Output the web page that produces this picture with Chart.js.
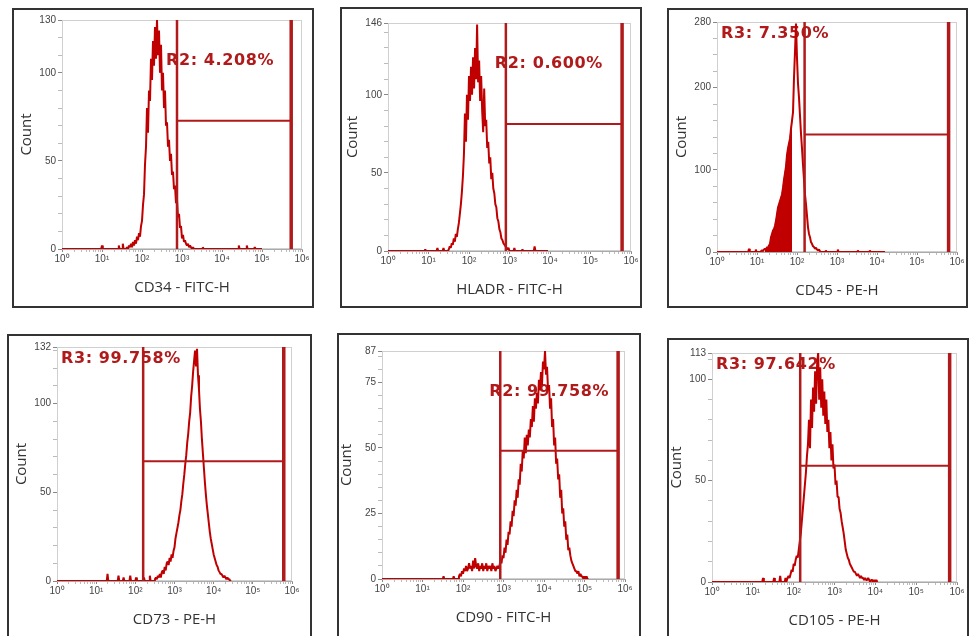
<!DOCTYPE html>
<html>
<head>
<meta charset="utf-8">
<title>Flow cytometry histograms</title>
<script src="https://cdn.jsdelivr.net/npm/chart.js@4.4.1/dist/chart.umd.min.js"></script>
<style>
  html, body { margin: 0; padding: 0; background: #fff; }
  body { width: 971px; height: 636px; position: relative; overflow: hidden; }
  .panel { position: absolute; box-sizing: border-box; border: 2px solid #333; }
  canvas { position: absolute; }
</style>
</head>
<body>
<div class="panel" style="left:12px;top:8px;width:302px;height:300px"></div>
<div class="panel" style="left:340px;top:7px;width:302px;height:301px"></div>
<div class="panel" style="left:667px;top:8px;width:301px;height:300px"></div>
<div class="panel" style="left:7px;top:334px;width:305px;height:310px"></div>
<div class="panel" style="left:337px;top:333px;width:304px;height:310px"></div>
<div class="panel" style="left:667px;top:338px;width:302px;height:310px"></div>
<canvas id="c0"></canvas>
<canvas id="c1"></canvas>
<canvas id="c2"></canvas>
<canvas id="c3"></canvas>
<canvas id="c4"></canvas>
<canvas id="c5"></canvas>
<script>
// ---- Data ----
const binStep = 0.025; // channel width, in decades

const markers = ['CD34 - FITC-H', 'HLADR - FITC-H', 'CD45 - PE-H', 'CD73 - PE-H', 'CD90 - FITC-H', 'CD105 - PE-H'];
const regionLabels = ['R2: 4.208%', 'R2: 0.600%', 'R3: 7.350%', 'R3: 99.758%', 'R2: 99.758%', 'R3: 97.642%'];
const yMax = [130, 146, 280, 132, 87, 113];
const yTickLabels = [[0, 50, 100, 130], [0, 50, 100, 146], [0, 100, 200, 280], [0, 50, 100, 132], [0, 25, 50, 75, 87], [0, 50, 100, 113]];
const yMinorStep = [10, 10, 20, 10, 5, 10];
const xDecades = [0, 1, 2, 3, 4, 5, 6];

// gates (log10 of fluorescence) and the level of the horizontal bar
const gateLow = [2.875, 2.91, 2.19, 2.2, 2.92, 2.16];
const gateHigh = [5.73, 5.78, 5.79, 5.79, 5.83, 5.82];
const gateLevel = [72.8, 81.4, 143, 67.6, 48.9, 57.4];

// histogram channels: first channel position and counts per channel
const histStart = [1.6, 1.5, 1.1, 2.5, 1.9, 1.85];

const cd34Counts = [0, 1, 0, 2, 1, 3, 1, 4, 2, 5, 3, 7, 5, 9, 7, 13,
  16, 25, 31, 48, 58, 80, 66, 90, 84, 108, 96, 118, 104, 126, 108, 130, 110, 124, 100, 116,
  90, 100, 80, 90, 70, 72, 58, 62, 50, 54, 42, 44, 34, 36, 26, 28, 18, 20, 12, 13,
  6, 8, 4, 5, 3, 2, 3, 1, 2, 1, 0, 1, 0];
const cd34Left = [[0, 0], [0.98, 0], [1.0, 2], [1.02, 0], [1.4, 0], [1.42, 2], [1.44, 0], [1.5, 0], [1.52, 3], [1.54, 0], [1.58, 0]];
const cd34Right = [[3.5, 0], [3.52, 1], [3.54, 0], [4.4, 0], [4.42, 2], [4.44, 0], [4.6, 0], [4.62, 2], [4.64, 0], [4.8, 0], [4.82, 1], [4.84, 0], [5.0, 0]];

const hladrCounts = [1, 3, 2, 5, 4, 8, 6, 11, 9, 14, 18, 24, 30, 38, 48, 62, 88, 70, 100, 84,
  112, 96, 118, 100, 124, 104, 130, 110, 145, 108, 122, 96, 112, 90, 76, 104, 80, 84, 66, 70,
  56, 60, 46, 50, 40, 37, 30, 28, 21, 19, 14, 12, 8, 7, 5, 4, 3, 2, 1, 2, 0];
const hladrLeft = [[0, 0], [0.9, 0], [0.92, 1], [0.94, 0], [1.2, 0], [1.22, 2], [1.24, 0], [1.35, 0], [1.37, 2], [1.39, 0], [1.48, 0]];
const hladrRight = [[3.1, 0], [3.12, 2], [3.14, 0], [3.3, 0], [3.32, 1], [3.34, 0], [3.6, 0], [3.62, 3], [3.64, 0], [3.95, 0]];

const cd45Counts = [1, 2, 1, 3, 4, 3, 6, 5, 8, 10, 18, 22, 26, 28, 32, 38, 46, 54, 58, 62,
  66, 70, 78, 88, 96, 104, 118, 126, 132, 138, 150, 160, 170, 212, 244, 278, 236, 205, 188, 166,
  144, 126, 106, 88, 70, 58, 44, 30, 22, 18, 12, 10, 7, 6, 4, 5, 3, 2, 3, 1, 0];
const cd45Left = [[0, 0], [0.78, 0], [0.8, 4], [0.82, 0], [0.95, 0], [0.97, 3], [0.99, 0], [1.08, 0]];
const cd45Right = [[2.7, 0], [2.72, 2], [2.74, 0], [3.0, 0], [3.02, 3], [3.04, 0], [3.5, 0], [3.52, 2], [3.54, 0], [3.8, 0], [3.82, 2], [3.84, 0], [4.2, 0]];
const cd45Solid = [1.2, 1.875]; // part of the CD45 histogram drawn solid

const cd73Counts = [1, 2, 1, 3, 2, 4, 2, 5, 6, 4, 8, 6, 10, 11, 9, 13, 11, 15, 13, 17,
  19, 24, 27, 30, 33, 37, 40, 45, 49, 55, 60, 66, 71, 78, 83, 90, 95, 104, 110, 118,
  124, 130, 121, 131, 116, 108, 97, 90, 80, 72, 64, 56, 49, 43, 38, 33, 28, 24, 21, 18,
  15, 13, 11, 9, 8, 6, 5, 4, 4, 3, 2, 3, 2, 1, 2, 1, 1, 0, 0];
const cd73Left = [[0, 0], [1.27, 0], [1.29, 4], [1.31, 0], [1.55, 0], [1.57, 3], [1.59, 0], [1.68, 0], [1.7, 2], [1.72, 0], [1.85, 0], [1.87, 3], [1.89, 0],
  [2.0, 0], [2.02, 2], [2.04, 0], [2.2, 0], [2.22, 2], [2.24, 0], [2.35, 0], [2.37, 3], [2.39, 0], [2.48, 0]];
const cd73Right = [];

const cd90Counts = [1, 2, 1, 3, 2, 4, 3, 5, 3, 4, 6, 4, 5, 3, 7, 4, 8, 5, 4, 6,
  3, 5, 4, 6, 3, 5, 4, 6, 3, 5, 4, 5, 3, 6, 4, 5, 3, 4, 5, 4,
  5, 7, 6, 9, 8, 12, 10, 15, 13, 18, 17, 22, 20, 26, 24, 30, 28, 34, 31, 38,
  36, 44, 41, 49, 46, 54, 48, 55, 51, 57, 54, 61, 58, 66, 60, 69, 65, 71, 67, 76,
  72, 79, 74, 83, 80, 87, 78, 81, 72, 74, 65, 69, 58, 61, 51, 54, 44, 46, 38, 40,
  31, 34, 25, 27, 20, 22, 15, 17, 11, 12, 9, 7, 6, 5, 4, 3, 3, 2, 3, 1,
  2, 1, 1, 0, 1, 0, 1, 0, 0];
const cd90Left = [[0, 0], [1.5, 0], [1.52, 1], [1.54, 0], [1.75, 0], [1.77, 1], [1.79, 0], [1.88, 0]];
const cd90Right = [];

const cd105Counts = [2, 3, 2, 4, 6, 5, 9, 8, 11, 13, 12, 16, 20, 24, 30, 36, 42, 48, 54, 62,
  68, 80, 66, 90, 76, 96, 84, 104, 88, 108, 113, 90, 106, 86, 100, 82, 94, 78, 90, 74,
  80, 66, 74, 60, 68, 56, 58, 48, 50, 42, 42, 36, 34, 30, 27, 24, 20, 16, 14, 12,
  11, 9, 8, 7, 6, 5, 5, 4, 3, 4, 3, 2, 3, 2, 2, 1, 2, 1, 1, 2, 1, 0, 1, 1, 0, 1, 0, 1, 0];
const cd105Left = [[0, 0], [1.23, 0], [1.25, 2], [1.27, 0], [1.5, 0], [1.52, 2], [1.54, 0], [1.65, 0], [1.67, 3], [1.69, 0], [1.78, 0], [1.8, 2], [1.82, 0]];
const cd105Right = [];

const histCounts = [cd34Counts, hladrCounts, cd45Counts, cd73Counts, cd90Counts, cd105Counts];
const histLeft = [cd34Left, hladrLeft, cd45Left, cd73Left, cd90Left, cd105Left];
const histRight = [cd34Right, hladrRight, cd45Right, cd73Right, cd90Right, cd105Right];

// ---- Layout (page pixels of each plot area) ----
const plotRects = [
  [62, 20, 302, 249], [388, 23, 631, 251], [717, 22, 957, 252],
  [57, 347, 292, 581], [382, 351, 625, 579], [712, 353, 957, 582]
];
// where the region percentage sits: next to the gate or in the top-left corner
const labelAnchor = ['gate', 'gate', 'corner', 'corner', 'gate', 'corner'];

const RED = '#c00000';
const GATE = '#b01a1a';
const SUP = ['\u2070', '\u00b9', '\u00b2', '\u00b3', '\u2074', '\u2075', '\u2076'];
const AXIS_W = 50, AXIS_H = 52, PAD_T = 14, PAD_R = 14;

function histPoints(i) {
  const pts = histLeft[i].map(([x, y]) => ({ x, y }));
  histCounts[i].forEach((c, k) => pts.push({ x: histStart[i] + k * binStep, y: c }));
  histRight[i].forEach(([x, y]) => pts.push({ x, y }));
  return pts;
}

// plot frame + region label, drawn under the histogram
const regionPlugin = {
  id: 'region',
  beforeDatasetsDraw(chart) {
    const { ctx, chartArea: a, scales } = chart;
    const i = chart.options.plugins.region.index;
    ctx.save();
    ctx.strokeStyle = '#d0d0d0';
    ctx.lineWidth = 1;
    ctx.strokeRect(a.left + 0.5, a.top + 0.5, a.right - a.left - 1, a.bottom - a.top - 1);
    ctx.font = 'bold 16px "DejaVu Sans"';
    ctx.letterSpacing = '0.6px';
    ctx.fillStyle = GATE;
    ctx.textBaseline = 'middle';
    let x, y;
    if (labelAnchor[i] === 'gate') {
      x = scales.x.getPixelForValue(gateLow[i]) - 11;
      y = a.top + 41;
    } else {
      x = a.left + 4;
      y = a.top + 12;
    }
    ctx.fillText(regionLabels[i], x, y);
    ctx.restore();
  }
};

function buildChart(i) {
  const [pl, pt, pr, pb] = plotRects[i];
  const canvas = document.getElementById('c' + i);
  canvas.width = pr - pl + AXIS_W + PAD_R;
  canvas.height = pb - pt + PAD_T + AXIS_H;
  canvas.style.left = (pl - AXIS_W) + 'px';
  canvas.style.top = (pt - PAD_T) + 'px';

  const hist = histPoints(i);
  const datasets = [
    { data: [{ x: gateLow[i], y: 0 }, { x: gateLow[i], y: yMax[i] }], borderColor: GATE, borderWidth: 2.5 },
    { data: [{ x: gateHigh[i], y: 0 }, { x: gateHigh[i], y: yMax[i] }], borderColor: GATE, borderWidth: 3.5 },
    { data: [{ x: gateLow[i], y: gateLevel[i] }, { x: gateHigh[i], y: gateLevel[i] }], borderColor: GATE, borderWidth: 2 },
    { data: hist, borderColor: RED, borderWidth: 2 }
  ];
  if (i === 2) {
    datasets.push({
      data: hist.filter(p => p.x >= cd45Solid[0] && p.x <= cd45Solid[1]),
      borderColor: RED, borderWidth: 1, backgroundColor: RED, fill: 'origin'
    });
  }

  new Chart(canvas, {
    type: 'line',
    data: { datasets },
    plugins: [regionPlugin],
    options: {
      responsive: false,
      animation: false,
      elements: { point: { radius: 0 }, line: { tension: 0, borderJoinStyle: 'bevel' } },
      layout: { padding: { top: PAD_T, right: PAD_R, left: 0, bottom: 0 } },
      plugins: {
        legend: { display: false },
        tooltip: { enabled: false },
        region: { index: i }
      },
      scales: {
        x: {
          type: 'linear',
          min: 0,
          max: 6,
          afterBuildTicks: scale => {
            const ticks = [];
            xDecades.forEach(d => {
              ticks.push({ value: d });
              if (d < 6) for (let k = 2; k <= 9; k++) ticks.push({ value: d + Math.log10(k) });
            });
            scale.ticks = ticks;
          },
          afterFit: scale => { scale.height = AXIS_H; },
          ticks: {
            autoSkip: false,
            maxRotation: 0,
            padding: 1,
            color: '#444',
            font: { size: 10, family: 'Liberation Sans' },
            callback: v => Number.isInteger(v) ? '10' + SUP[v] : ''
          },
          grid: {
            drawOnChartArea: false,
            tickLength: 3,
            tickColor: c => (c.tick && Number.isInteger(c.tick.value)) ? '#888' : '#bbb'
          },
          border: { color: '#aaa' },
          title: {
            display: true,
            text: markers[i],
            color: '#333',
            font: { size: 15, family: 'Open Sans' },
            padding: { top: 0, bottom: 4 }
          }
        },
        y: {
          type: 'linear',
          min: 0,
          max: yMax[i],
          afterBuildTicks: scale => {
            const ticks = [];
            for (let v = 0; v < yMax[i]; v += yMinorStep[i]) ticks.push({ value: v });
            yTickLabels[i].forEach(v => { if (v % yMinorStep[i] !== 0) ticks.push({ value: v }); });
            if (!ticks.some(t => t.value === yMax[i])) ticks.push({ value: yMax[i] });
            ticks.sort((a, b) => a.value - b.value);
            scale.ticks = ticks;
          },
          afterFit: scale => { scale.width = AXIS_W; },
          ticks: {
            autoSkip: false,
            padding: 2,
            color: '#444',
            font: { size: 10, family: 'Liberation Sans' },
            callback: v => yTickLabels[i].includes(v) ? String(v) : ''
          },
          grid: {
            drawOnChartArea: false,
            tickLength: 4,
            tickColor: c => (c.tick && yTickLabels[i].includes(c.tick.value)) ? '#888' : '#bbb'
          },
          border: { color: '#aaa' },
          title: {
            display: true,
            text: 'Count',
            color: '#333',
            font: { size: 15, family: 'Open Sans' },
            padding: { top: 6, bottom: 0 }
          }
        }
      }
    }
  });
}

document.addEventListener('DOMContentLoaded', () => {
  markers.forEach((m, i) => buildChart(i));
});
</script>
</body>
</html>
